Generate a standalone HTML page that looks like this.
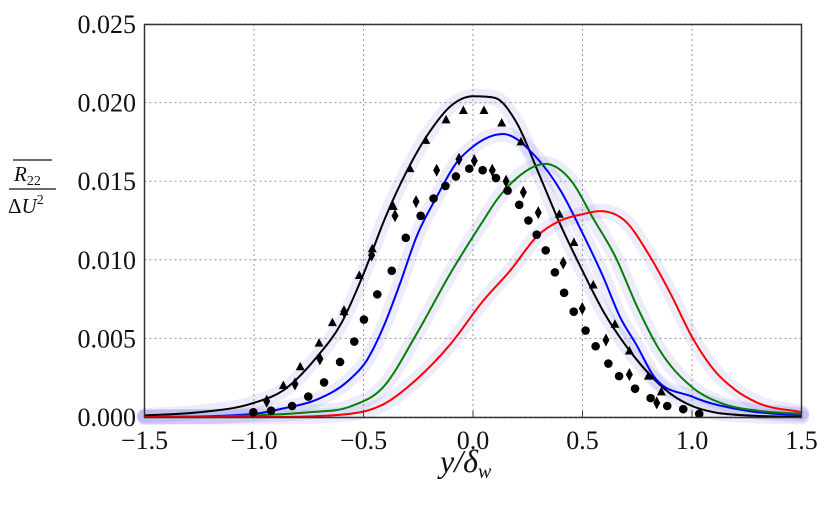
<!DOCTYPE html>
<html><head><meta charset="utf-8"><style>
body{margin:0;background:#fff;}
svg{display:block;font-family:"Liberation Serif",serif;}
</style></head><body>
<svg id="chart" width="831" height="508" viewBox="0 0 831 508" xmlns="http://www.w3.org/2000/svg">
<g id="grid"></g>
<g id="bands"></g>
<g id="lines"></g>
<g id="marks"></g>
<rect x="144.5" y="24.5" width="657" height="393" fill="none" stroke="#333" stroke-width="1.5"/>
<g id="ticks" font-size="26" fill="#111"></g>
<g font-style="italic" fill="#111">
  <line x1="13" y1="160" x2="52" y2="160" stroke="#111" stroke-width="1.3"/>
  <text x="14" y="181" font-size="21">R<tspan font-size="14" dy="4" font-style="normal">22</tspan></text>
  <line x1="9" y1="189" x2="56" y2="189" stroke="#111" stroke-width="1.3"/>
  <text x="8" y="213" font-size="21"><tspan font-style="normal">Δ</tspan>U<tspan font-size="14" dy="-9" font-style="normal">2</tspan></text>
</g>
<text x="440" y="472" font-size="32" font-style="italic" fill="#111">y/δ<tspan font-size="20" dy="6">w</tspan></text>
</svg>
<script>
const xTicks=[-1.5,-1.0,-0.5,0.0,0.5,1.0,1.5];
const xTickLabels=["\u22121.5","\u22121.0","\u22120.5","0.0","0.5","1.0","1.5"];
const yTicks=[0,0.005,0.010,0.015,0.020,0.025];
const yTickLabels=["0.000","0.005","0.010","0.015","0.020","0.025"];
const blackX=[-1.5,-1.25,-1.0,-0.866,-0.714,-0.6,-0.5,-0.4,-0.3,-0.2,-0.1,0.0,0.1,0.2,0.3,0.4,0.5,0.6,0.7,0.8,0.9,1.0,1.1,1.25,1.5];
const blackY=[0.0001,0.0003,0.0009,0.0017,0.0038,0.0060,0.0091,0.0127,0.0157,0.0181,0.0198,0.0204,0.0203,0.0187,0.0155,0.0122,0.0093,0.0066,0.0045,0.0028,0.0015,0.0007,0.0003,0.0001,0.0];
const blueX=[-1.5,-1.0,-0.866,-0.714,-0.562,-0.485,-0.41,-0.333,-0.257,-0.166,-0.074,0.0,0.137,0.29,0.4,0.5,0.595,0.67,0.75,0.82,1.0,1.25,1.5];
const blueY=[0.0,0.0002,0.00055,0.0011,0.0024,0.0036,0.0057,0.0085,0.0115,0.0140,0.0162,0.0172,0.0180,0.0165,0.0144,0.0117,0.0089,0.0064,0.0045,0.0027,0.0013,0.0004,0.0001];
const greenX=[-1.5,-1.0,-0.75,-0.562,-0.41,-0.257,-0.105,0.047,0.108,0.2,0.33,0.45,0.55,0.65,0.75,0.85,1.0,1.15,1.3,1.5];
const greenY=[0.0,0.0001,0.0003,0.00066,0.0019,0.0053,0.0091,0.0125,0.0138,0.0152,0.0161,0.0150,0.0126,0.0102,0.0070,0.0043,0.0019,0.0008,0.0004,0.0002];
const redX=[-1.5,-1.0,-0.562,-0.41,-0.257,-0.105,0.047,0.169,0.3,0.4,0.5,0.58,0.7,0.8,0.9,1.0,1.1,1.2,1.3,1.5];
const redY=[0.0,0.0,0.0002,0.0008,0.0024,0.0046,0.0074,0.0093,0.0116,0.0125,0.0129,0.0131,0.0124,0.0104,0.0079,0.0051,0.0030,0.0017,0.0009,0.0003];
const triX=[-0.866,-0.789,-0.703,-0.642,-0.589,-0.519,-0.460,-0.364,-0.288,-0.216,-0.123,-0.044,0.050,0.131,0.219,0.394,0.461,0.549,0.648,0.714,0.801,0.860];
const triY=[0.0020,0.0032,0.0047,0.0060,0.0067,0.0090,0.0107,0.0134,0.0158,0.0176,0.0189,0.0195,0.0195,0.0187,0.0175,0.0129,0.0111,0.0084,0.0059,0.0042,0.0026,0.0016];
const diaX=[-0.942,-0.813,-0.699,-0.589,-0.463,-0.356,-0.260,-0.166,-0.064,0.006,0.088,0.151,0.230,0.298,0.412,0.499,0.607,0.714,0.839];
const diaY=[0.0010,0.0021,0.0037,0.0067,0.0103,0.0128,0.0137,0.0157,0.0164,0.0163,0.0157,0.0150,0.0143,0.0130,0.0098,0.0069,0.0049,0.0027,0.0009];
const cirX=[-1.003,-0.922,-0.826,-0.752,-0.680,-0.607,-0.542,-0.498,-0.437,-0.371,-0.307,-0.239,-0.180,-0.126,-0.078,-0.017,0.044,0.105,0.158,0.211,0.253,0.291,0.332,0.374,0.416,0.460,0.514,0.560,0.618,0.667,0.740,0.811,0.887,0.960,1.033];
const cirY=[0.0003,0.0004,0.0007,0.0013,0.0022,0.0035,0.0048,0.0062,0.0078,0.0093,0.0114,0.0128,0.0139,0.0147,0.0153,0.0158,0.0157,0.0152,0.0144,0.0135,0.0125,0.0116,0.0106,0.0092,0.0079,0.0067,0.0055,0.0045,0.0034,0.0026,0.0018,0.0012,0.0007,0.0005,0.0002];

const NS="http://www.w3.org/2000/svg";
const X0=144.5,X1=801.5,Y0=417,Y1=24;
function sx(v){return X0+(v+1.5)/3*(X1-X0);}
function sy(v){return Y0-v/0.025*(Y0-Y1);}
function mk(tag,attrs,parent){const e=document.createElementNS(NS,tag);for(const k in attrs)e.setAttribute(k,attrs[k]);parent.appendChild(e);return e;}
const grid=document.getElementById('grid'),ticks=document.getElementById('ticks');
xTicks.forEach((t,i)=>{
  const l=mk('line',{x1:sx(t),x2:sx(t),y1:Y1,y2:Y0,stroke:'#999','stroke-width':1,'stroke-dasharray':'2,3'},grid);
  
  
  const tk=mk('line',{x1:sx(t),x2:sx(t),y1:Y0,y2:Y0-6,stroke:'#333'},grid);
  
  
  const tx=mk('text',{x:sx(t),y:449,'text-anchor':'middle'},ticks);
  tx.textContent=xTickLabels[i];
  
  
});
yTicks.forEach((t,i)=>{
  const l=mk('line',{x1:X0,x2:X1,y1:sy(t),y2:sy(t),stroke:'#999','stroke-width':1,'stroke-dasharray':'2,3'},grid);
  
  
  const tx=mk('text',{x:136,y:sy(t)+9,'text-anchor':'end'},ticks);
  tx.textContent=yTickLabels[i];
  
  
});
function pathD(xs,ys){
  const p=xs.map((x,i)=>[sx(x),sy(ys[i])]);
  const n=p.length,d=[],m=new Array(n);
  for(let i=0;i<n-1;i++)d.push((p[i+1][1]-p[i][1])/(p[i+1][0]-p[i][0]));
  m[0]=d[0];m[n-1]=d[n-2];
  for(let i=1;i<n-1;i++){
    if(d[i-1]*d[i]<=0){m[i]=0;continue;}
    const h0=p[i][0]-p[i-1][0],h1=p[i+1][0]-p[i][0];
    m[i]=(d[i-1]*h1+d[i]*h0)/(h0+h1);
  }
  for(let i=0;i<n-1;i++){if(d[i]===0){m[i]=0;m[i+1]=0;continue;}
    const a=m[i]/d[i],b=m[i+1]/d[i],s=a*a+b*b;if(s>9){const t=3/Math.sqrt(s);m[i]=t*a*d[i];m[i+1]=t*b*d[i];}}
  let s='M'+p[0][0]+','+p[0][1];
  for(let i=0;i<n-1;i++){const h=(p[i+1][0]-p[i][0])/3;
    s+=' C'+(p[i][0]+h)+','+(p[i][1]+m[i]*h)+' '+(p[i+1][0]-h)+','+(p[i+1][1]-m[i+1]*h)+' '+p[i+1][0]+','+p[i+1][1];}
  return s;
}
const series=[[blackX,blackY,'#000','black'],[blueX,blueY,'#0000ff','blue'],[greenX,greenY,'#008000','green'],[redX,redY,'#ff0000','red']];
const bands=document.getElementById('bands'),lines=document.getElementById('lines');
series.forEach(s=>{
  const b=mk('path',{d:pathD(s[0],s[1]),fill:'none',stroke:'rgba(110,110,225,0.13)','stroke-width':15,'stroke-linejoin':'round','stroke-linecap':'round'},bands);
  
  
});
series.forEach(s=>{
  const l=mk('path',{d:pathD(s[0],s[1]),fill:'none',stroke:s[2],'stroke-width':2},lines);
  
  
});
const marks=document.getElementById('marks');
triX.forEach((x,i)=>{const cx=sx(x),cy=sy(triY[i]);
  const m=mk('polygon',{points:`${cx},${cy-5} ${cx-4.5},${cy+3.5} ${cx+4.5},${cy+3.5}`,fill:'#000'},marks);
  
  });
diaX.forEach((x,i)=>{const cx=sx(x),cy=sy(diaY[i]);
  const m=mk('polygon',{points:`${cx},${cy-6.5} ${cx+3.5},${cy} ${cx},${cy+6.5} ${cx-3.5},${cy}`,fill:'#000'},marks);
  
  });
cirX.forEach((x,i)=>{
  const m=mk('circle',{cx:sx(x),cy:sy(cirY[i]),r:4.3,fill:'#000'},marks);
  
  });
</script>
</body></html>
